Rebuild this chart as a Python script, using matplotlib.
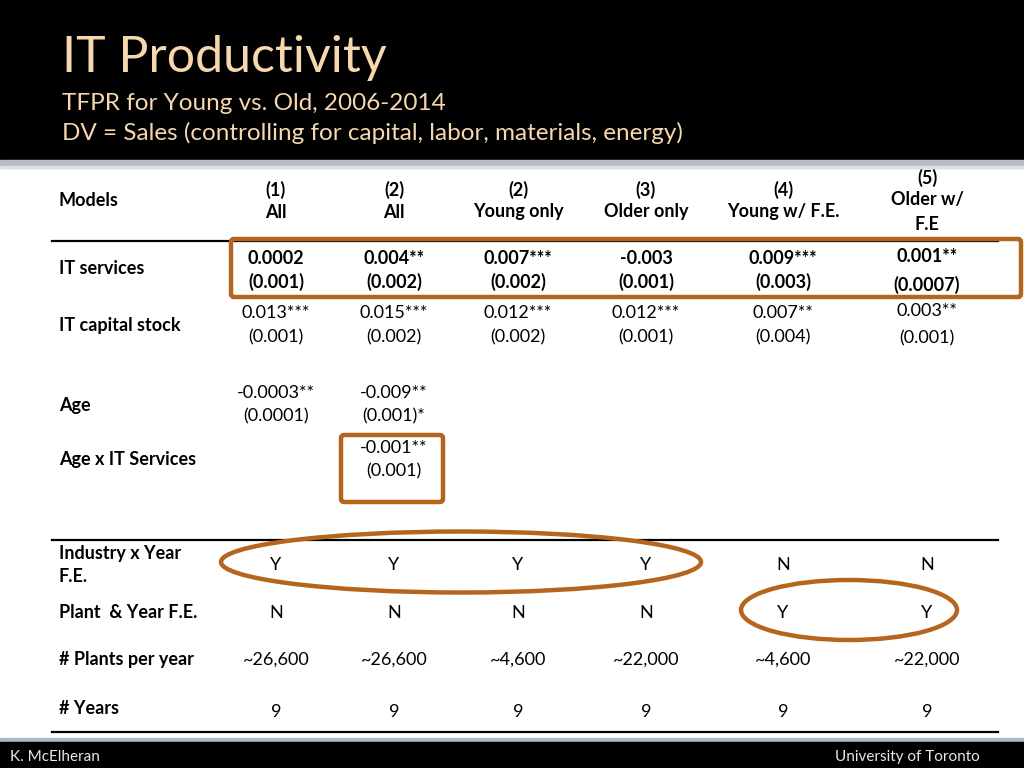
import matplotlib.pyplot as plt
from matplotlib.patches import Rectangle, FancyBboxPatch, Ellipse

plt.rcParams['font.family'] = ['Lato', 'DejaVu Sans']

# Table content
col_num = ['(1)', '(2)', '(2)', '(3)', '(4)', '(5)']
col_name = ['All', 'All', 'Young only', 'Older only', 'Young w/ F.E.', 'Older w/\nF.E']
it_serv_coef = ['0.0002', '0.004**', '0.007***', '-0.003', '0.009***', '0.001**']
it_serv_se = ['(0.001)', '(0.002)', '(0.002)', '(0.001)', '(0.003)', '(0.0007)']
it_cap_coef = ['0.013***', '0.015***', '0.012***', '0.012***', '0.007**', '0.003**']
it_cap_se = ['(0.001)', '(0.002)', '(0.002)', '(0.001)', '(0.004)', '(0.001)']
age_coef = ['-0.0003**', '-0.009**']
age_se = ['(0.0001)', '(0.001)*']
age_it_coef = ['', '-0.001**']
age_it_se = ['', '(0.001)']
ind_year_fe = ['Y', 'Y', 'Y', 'Y', 'N', 'N']
plant_year_fe = ['N', 'N', 'N', 'N', 'Y', 'Y']
plants_per_year = ['~26,600', '~26,600', '~4,600', '~22,000', '~4,600', '~22,000']
n_years = ['9', '9', '9', '9', '9', '9']

col_x = [276, 394, 518, 646, 783, 927]
label_x = 59
orange = '#B5651D'
peach = '#F6D7AE'

fig = plt.figure(figsize=(10.24, 7.68), dpi=100)
ax = fig.add_axes([0, 0, 1, 1])
ax.set_xlim(0, 1024)
ax.set_ylim(768, 0)
ax.axis('off')

# header and footer bands
ax.add_patch(Rectangle((0, 0), 1024, 160, color='black'))
ax.add_patch(Rectangle((0, 160), 1024, 8, color='#B9BDC6'))
ax.add_patch(Rectangle((0, 166), 1024, 2, color='#DDE0E6'))
ax.add_patch(Rectangle((0, 738), 1024, 5, color='#AEB8C6'))
ax.add_patch(Rectangle((0, 742), 1024, 26, color='black'))

ax.text(62, 58, 'IT Productivity', color=peach, fontsize=36, va='center', ha='left')
ax.text(62, 104, 'TFPR for Young vs. Old, 2006-2014', color=peach, fontsize=17.5, va='center')
ax.text(62, 133, 'DV = Sales (controlling for capital, labor, materials, energy)',
        color=peach, fontsize=17.5, va='center')
ax.text(10, 757, 'K. McElheran', color='#E8E8E8', fontsize=11, va='center')
ax.text(980, 757, 'University of Toronto', color='#E8E8E8', fontsize=11, va='center', ha='right')

fs = 13
bold_kw = dict(fontsize=fs, fontweight='bold', va='center')

# header row
ax.text(label_x, 200, 'Models', **bold_kw)
for i, x in enumerate(col_x):
    if '\n' in col_name[i]:
        ax.text(x, 178, col_num[i], ha='center', **bold_kw)
        a, b = col_name[i].split('\n')
        ax.text(x, 200, a, ha='center', **bold_kw)
        ax.text(x, 224, b, ha='center', **bold_kw)
    else:
        ax.text(x, 190, col_num[i], ha='center', **bold_kw)
        ax.text(x, 212, col_name[i], ha='center', **bold_kw)

# rules
for y in [241, 540, 732]:
    ax.plot([52, 998], [y, y], color='black', lw=1.6)

# row labels
ax.text(label_x, 269, 'IT services', **bold_kw)
ax.text(label_x, 325, 'IT capital stock', **bold_kw)
ax.text(label_x, 405, 'Age', **bold_kw)
ax.text(label_x, 459, 'Age x IT Services', **bold_kw)
ax.text(label_x, 553, 'Industry x Year', **bold_kw)
ax.text(label_x, 577, 'F.E.', **bold_kw)
ax.text(label_x, 613, 'Plant  & Year F.E.', **bold_kw)
ax.text(label_x, 660, '# Plants per year', **bold_kw)
ax.text(label_x, 708, '# Years', **bold_kw)

plain_kw = dict(fontsize=fs, va='center', ha='center')
for i, x in enumerate(col_x):
    last = i == len(col_x) - 1
    ax.text(x, 256 if last else 258, it_serv_coef[i], fontweight='bold', **plain_kw)
    ax.text(x, 285 if last else 282, it_serv_se[i], fontweight='bold', **plain_kw)
    ax.text(x, 311 if last else 313, it_cap_coef[i], **plain_kw)
    ax.text(x, 338 if last else 337, it_cap_se[i], **plain_kw)
    ax.text(x, 565, ind_year_fe[i], **plain_kw)
    ax.text(x, 613, plant_year_fe[i], **plain_kw)
    ax.text(x, 660, plants_per_year[i], **plain_kw)
    ax.text(x, 712, n_years[i], **plain_kw)
for i in range(len(age_coef)):
    ax.text(col_x[i], 393, age_coef[i], **plain_kw)
    ax.text(col_x[i], 416, age_se[i], **plain_kw)
    ax.text(col_x[i], 448, age_it_coef[i], **plain_kw)
    ax.text(col_x[i], 471, age_it_se[i], **plain_kw)

# highlight boxes
ax.add_patch(FancyBboxPatch((231, 239), 790, 58, boxstyle='round,pad=0,rounding_size=3',
                            fill=False, ec=orange, lw=3.2, zorder=5))
ax.add_patch(FancyBboxPatch((341, 435), 102, 67, boxstyle='round,pad=0,rounding_size=3',
                            fill=False, ec=orange, lw=3.2, zorder=5))
ax.add_patch(Ellipse((461, 562), 480, 61, fill=False, ec=orange, lw=3.2, zorder=5))
ax.add_patch(Ellipse((849, 610), 216, 60, fill=False, ec=orange, lw=3.2, zorder=5))

fig.savefig('out.png', dpi=100, facecolor='white')
